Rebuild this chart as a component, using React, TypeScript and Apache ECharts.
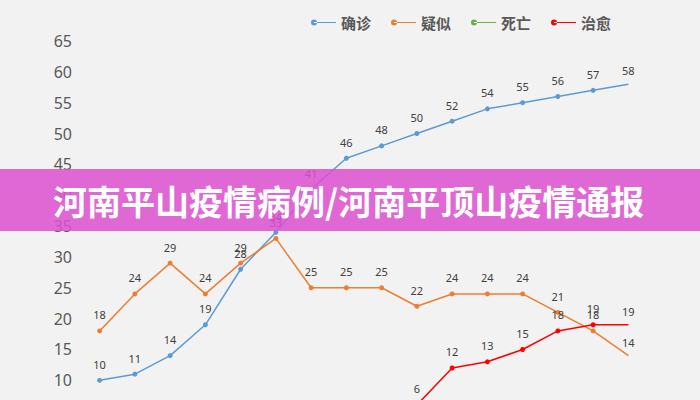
import React, { useEffect, useRef } from "react";
import * as echarts from "echarts";

const categories = ["1", "2", "3", "4", "5", "6", "7", "8", "9", "10", "11", "12", "13", "14", "15", "16"];
const confirmed = [10, 11, 14, 19, 28, 34, 41, 46, 48, 50, 52, 54, 55, 56, 57, 58];
const suspected = [18, 24, 29, 24, 29, 33, 25, 25, 25, 22, 24, 24, 24, 21, 18, 14];
const deaths = [0, 0, 0, 0, 0, 0, 0, 0, 0, 0, 0, 0, 1, 1, 1, 1];
const healed = [0, 0, 0, 0, 0, 0, 1, 1, 3, 6, 12, 13, 15, 18, 19, 19];
const seriesNames = ["确诊", "疑似", "死亡", "治愈"];
const seriesColors = ["#5b9bd5", "#ed7d31", "#70ad47", "#ff0000"];
const yTicks = { min: 0, max: 65, interval: 5 };
const bannerText = "河南平山疫情病例/河南平顶山疫情通报";

const legendIcon = "path://M0,3a3,3 0 1,0 6,0a3,3 0 1,0 -6,0ZM3,2.5h22v1h-22Z";

function toData(values: number[]) {
  return values.map((v, i) => (i === values.length - 1 ? { value: v, symbolSize: 0 } : v));
}

export default function App() {
  const ref = useRef<HTMLDivElement>(null);
  useEffect(() => {
    if (!ref.current) return;
    const chart = echarts.init(ref.current, null, { renderer: "svg" });
    const allSeries = [confirmed, suspected, deaths, healed];
    chart.setOption({
      animation: false,
      backgroundColor: "#f2f2f2",
      legend: {
        left: 306,
        top: 10,
        itemWidth: 25,
        itemHeight: 6,
        itemGap: 20,
        textStyle: { fontSize: 15, fontWeight: "bold", color: "#595959", fontFamily: "Noto Sans CJK SC" },
        data: seriesNames.map((n, i) => ({ name: n, icon: legendIcon, itemStyle: { color: seriesColors[i] } })),
      },
      grid: { left: 82, right: 54, top: 41, bottom: 58 },
      xAxis: {
        type: "category",
        data: categories,
        boundaryGap: true,
        axisLine: { lineStyle: { color: "#d9d9d9" } },
        axisTick: { show: false },
        axisLabel: { show: false },
      },
      yAxis: {
        type: "value",
        min: yTicks.min,
        max: yTicks.max,
        interval: yTicks.interval,
        splitLine: { show: false },
        axisLine: { show: false },
        axisTick: { show: false },
        axisLabel: { color: "#595959", fontSize: 16, fontFamily: "Noto Sans", margin: 10 },
      },
      series: allSeries.map((vals, i) => ({
        name: seriesNames[i],
        type: "line",
        data: toData(vals),
        symbol: "circle",
        symbolSize: 5,
        showAllSymbol: true,
        lineStyle: { width: 1.5, color: seriesColors[i] },
        itemStyle: { color: seriesColors[i] },
        label: {
          show: true,
          position: "top",
          distance: 8,
          fontSize: 11,
          color: "#404040",
          fontFamily: "Noto Sans",
        },
        z: 2,
      })),
      graphic: [
        {
          type: "rect",
          shape: { x: 0, y: 169, width: 700, height: 62 },
          style: { fill: "rgba(220,82,209,0.86)" },
          z: 100,
        },
        {
          type: "text",
          x: 53,
          y: 200,
          style: {
            text: bannerText,
            fill: "#ffffff",
            font: "bold 34px 'Noto Sans CJK SC'",
            verticalAlign: "middle",
          },
          z: 101,
        },
      ],
    });
    return () => chart.dispose();
  }, []);
  return (
    <div style={{ position: "fixed", left: 0, top: 0, width: 700, height: 400, overflow: "hidden", background: "#f2f2f2" }}>
      <div ref={ref} style={{ width: 700, height: 500 }} />
    </div>
  );
}
